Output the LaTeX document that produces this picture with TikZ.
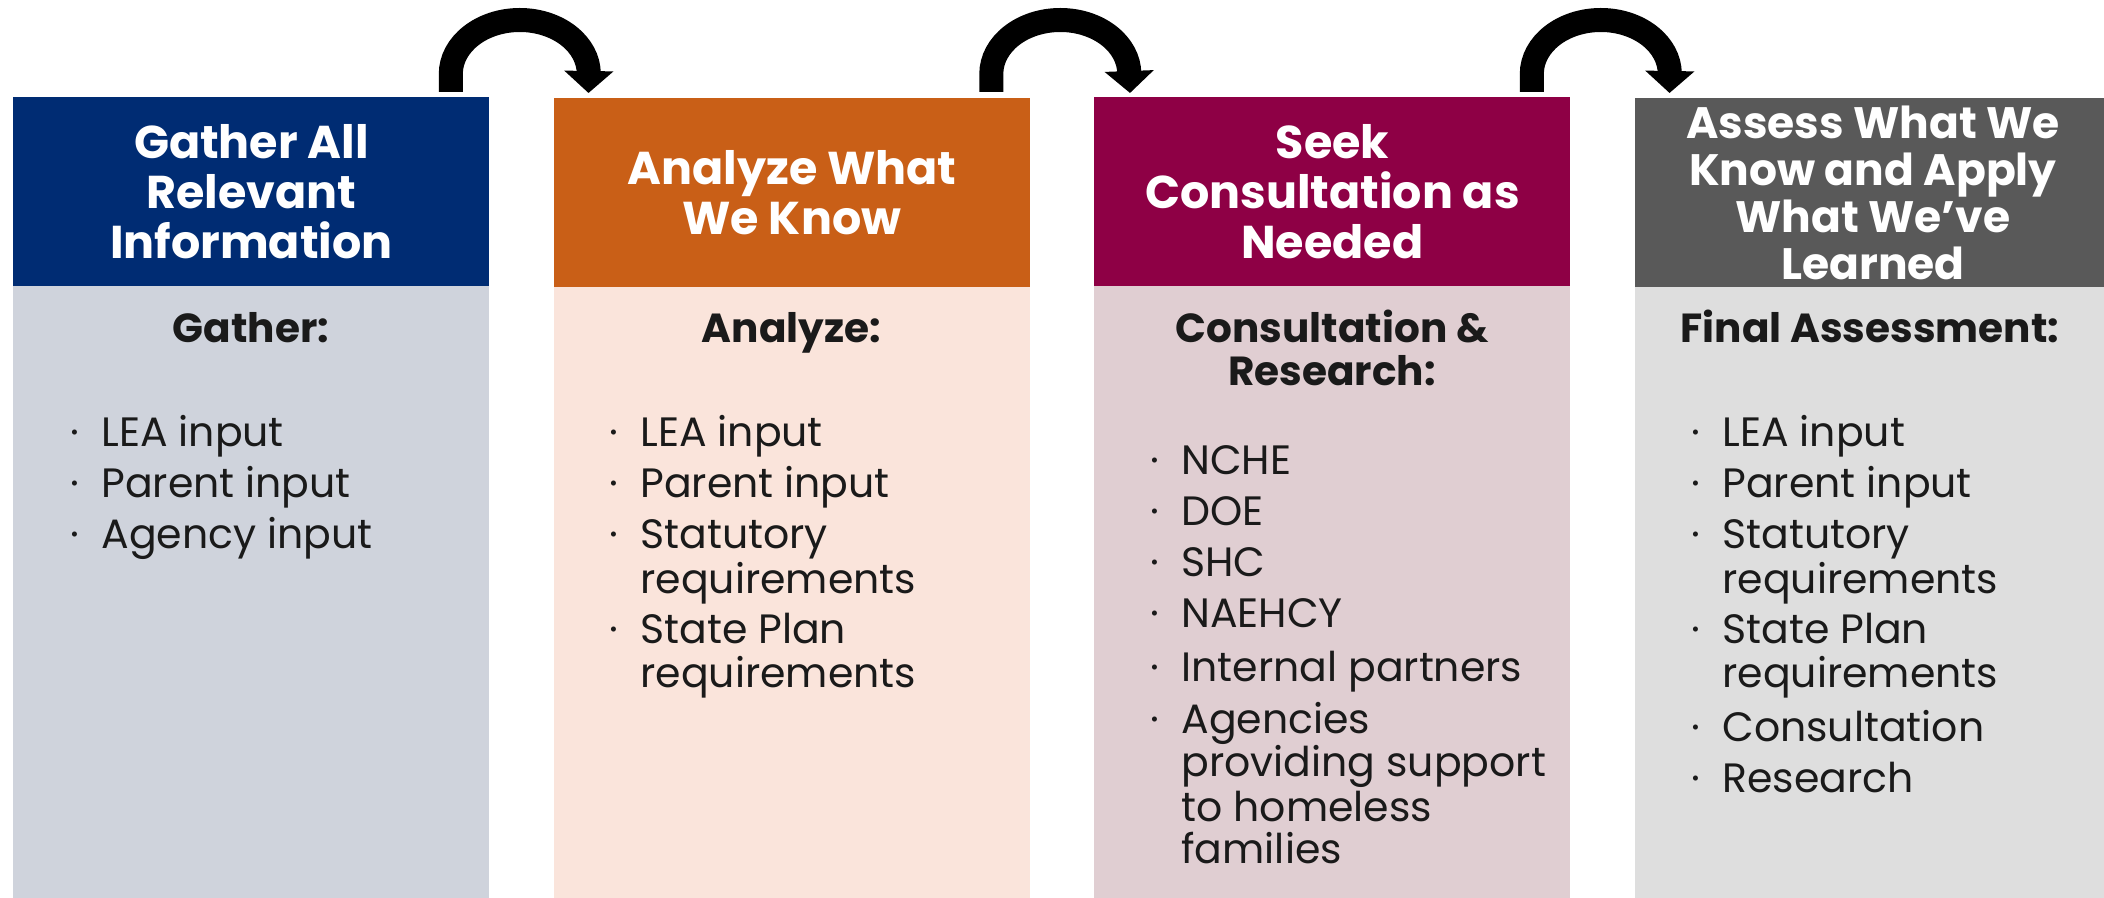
\documentclass[tikz,border=0pt]{standalone}
\usepackage{fontspec}
\setmainfont{Poppins}
\usetikzlibrary{arrows.meta,calc}
\definecolor{hA}{HTML}{002C73}
\definecolor{hB}{HTML}{C95F17}
\definecolor{hC}{HTML}{8E0045}
\definecolor{hD}{HTML}{595959}
\definecolor{bA}{HTML}{CFD3DC}
\definecolor{bB}{HTML}{FAE4DB}
\definecolor{bC}{HTML}{E0CED2}
\definecolor{bD}{HTML}{DEDEDE}
\definecolor{txtc}{HTML}{1A1A1A}
\newcommand\bul{\llap{·\hspace{11pt}}}
\begin{document}
\begin{tikzpicture}[x=0.5pt,y=-0.5pt,
 hdr/.style={anchor=north west, minimum width=238pt, minimum height=94.5pt, inner sep=0pt, text=white, align=center, font=\fontsize{23}{25}\selectfont\bfseries},
 bodybox/.style={anchor=north west, minimum width=238pt, minimum height=306pt, inner sep=0pt},
 sub/.style={anchor=base, text=txtc, align=center, font=\fontsize{20.3}{21.5}\selectfont\bfseries, inner sep=0pt},
 li/.style={anchor=base west, text=txtc, font=\fontsize{20.5}{24}\selectfont, inner sep=0pt},
 flow/.style={line width=12pt, -{Triangle[width=24pt,length=11pt]}},
]
\useasboundingbox[fill=white] (0,0) rectangle (2104,898);
% bodies
\node[bodybox, fill=bA] (b1) at (13,286) {};
\node[bodybox, fill=bB] (b2) at (553.5,286) {};
\node[bodybox, fill=bC] (b3) at (1094,286) {};
\node[bodybox, fill=bD] (b4) at (1634.5,286) {};
% headers
\node[hdr, fill=hA] (h1) at (13,97) {Gather All\\Relevant\\Information};
\node[hdr, fill=hB] (h2) at (553.5,98) {Analyze What\\We Know};
\node[hdr, fill=hC] (h3) at (1094,97) {Seek\\Consultation as\\Needed};
\node[hdr, fill=hD, font=\fontsize{22}{23.5}\selectfont\bfseries] (h4) at (1634.5,98) {Assess What We\\Know and Apply\\What We’ve\\Learned};
% subtitles
\node[sub] (s1) at (251,343) {Gather:};
\node[sub] (s2) at (791.5,343) {Analyze:};
\node[sub] (s3) at (1332,386) {Consultation \&\\Research:};
\node[sub] (s4) at (1870,343) {Final Assessment:};
% lists
\foreach \itext/\yy/\bb [count=\i] in {LEA input/446/1, Parent input/497/1, Agency input/548/1}
  \node[li] (la\i) at (101,\yy) {\ifnum\bb=1 \bul\fi\itext};
\foreach \itext/\yy/\bb [count=\i] in {LEA input/446/1, Parent input/497/1, Statutory/548/1, requirements/593/0, State Plan/643/1, requirements/687/0}
  \node[li] (lb\i) at (640,\yy) {\ifnum\bb=1 \bul\fi\itext};
\foreach \itext/\yy/\bb [count=\i] in {NCHE/474/1, DOE/525/1, SHC/576/1, NAEHCY/627/1, Internal partners/681/1, Agencies/733/1, providing support/776/0, to homeless/821/0, families/863/0}
  \node[li] (lc\i) at (1181,\yy) {\ifnum\bb=1 \bul\fi\itext};
\foreach \itext/\yy/\bb [count=\i] in {LEA input/446/1, Parent input/497/1, Statutory/548/1, requirements/593/0, State Plan/643/1, requirements/687/0, Consultation/741/1, Research/792/1}
  \node[li] (ld\i) at (1722,\yy) {\ifnum\bb=1 \bul\fi\itext};
% arrows
\coordinate (a1) at ($(h1.north east)+(-39,-5)$);
\coordinate (e1) at ($(h2.north west)+(35,-5)$);
\coordinate (a2) at ($(h2.north east)+(-39,-6)$);
\coordinate (e2) at ($(h3.north west)+(36,-4)$);
\coordinate (a3) at ($(h3.north east)+(-39,-5)$);
\coordinate (e3) at ($(h4.north west)+(35,-5)$);
\foreach \i in {1,2,3}
  \draw[flow] (a\i) -- ++(0,-18) arc[start angle=180, end angle=360, x radius=69, y radius=54] -- (e\i);
\end{tikzpicture}
\end{document}
